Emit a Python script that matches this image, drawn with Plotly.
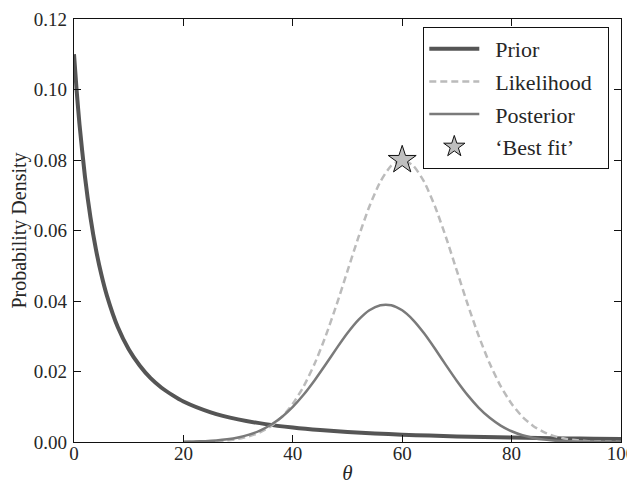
import plotly.graph_objects as go

# ---- data ----
prior_x = [0, 0.5, 1, 2, 3, 4, 5, 6, 8, 10, 12, 14, 16, 18, 20, 25, 30, 35, 40, 45,
           50, 55, 60, 65, 70, 75, 80, 85, 90, 95, 100]
prior_y = [0.1100, 0.0993, 0.0902, 0.0753, 0.0638, 0.0547, 0.0475, 0.0416, 0.0326,
           0.0263, 0.0217, 0.0181, 0.0154, 0.0133, 0.0115, 0.00843, 0.00643, 0.00507,
           0.00410, 0.00338, 0.00284, 0.00242, 0.00208, 0.00181, 0.00159, 0.00141,
           0.00126, 0.00113, 0.00102, 0.00092, 0.00084]

theta = [20, 22, 24, 26, 28, 30, 32, 34, 36, 38, 40, 42, 44, 46, 48, 50, 52, 54, 56, 58,
         60, 62, 64, 66, 68, 70, 72, 74, 76, 78, 80, 82, 84, 86, 88, 90, 92, 94, 96, 98, 100]
likelihood = [0.0000268, 0.0000584, 0.000123, 0.000247, 0.000478, 0.000889, 0.00159,
              0.00272, 0.00449, 0.00711, 0.01083, 0.01583, 0.02224, 0.03002, 0.03894,
              0.04852, 0.05809, 0.06682, 0.07385, 0.07842, 0.08000, 0.07842, 0.07385,
              0.06682, 0.05809, 0.04852, 0.03894, 0.03002, 0.02224, 0.01583, 0.01083,
              0.00711, 0.00449, 0.00272, 0.00159, 0.000889, 0.000478, 0.000247,
              0.000123, 0.0000584, 0.0000268]
posterior = [0.0000693, 0.000132, 0.000247, 0.000441, 0.000765, 0.001283, 0.002080,
             0.003238, 0.004887, 0.007101, 0.009961, 0.013452, 0.017515, 0.021970,
             0.026553, 0.030901, 0.034631, 0.037370, 0.038819, 0.038817, 0.037355,
             0.034600, 0.030836, 0.026444, 0.021818, 0.017319, 0.013227, 0.009714,
             0.006864, 0.004665, 0.003051, 0.001916, 0.001159, 0.000673, 0.000377,
             0.000203, 0.000105, 0.000052, 0.000025, 0.0000114, 0.000005]

best_fit_x = [60]
best_fit_y = [0.08]

x_ticks = [0, 20, 40, 60, 80, 100]
y_ticks = [0.00, 0.02, 0.04, 0.06, 0.08, 0.10, 0.12]

series_names = ["Prior", "Likelihood", "Posterior", "‘Best fit’"]

FONT = "Liberation Serif"
NB = "\u00a0"


def label(s):
    return NB * 2 + s + NB * 2


fig = go.Figure()
fig.add_trace(go.Scatter(x=prior_x, y=prior_y, mode="lines", name=label(series_names[0]),
                         legendgroup="a",
                         line=dict(color="#555555", width=4, shape="spline", smoothing=0.6)))
fig.add_trace(go.Scatter(x=theta, y=likelihood, mode="lines", name=label(series_names[1]),
                         legendgroup="b",
                         line=dict(color="#bbbbbb", width=2.5, dash="7px,4px",
                                   shape="spline", smoothing=0.6)))
fig.add_trace(go.Scatter(x=theta, y=posterior, mode="lines", name=label(series_names[2]),
                         legendgroup="c",
                         line=dict(color="#7a7a7a", width=2.5, shape="spline", smoothing=0.6)))
fig.add_trace(go.Scatter(x=best_fit_x, y=best_fit_y, mode="markers", name=label(series_names[3]),
                         legendgroup="d",
                         marker=dict(symbol="star", size=21, color="#bfbfbf",
                                     line=dict(color="#111111", width=1))))

# the page body adds an 8px offset, so margins are shifted to compensate
fig.update_layout(
    width=635, height=484,
    margin=dict(l=66, r=22, t=11, b=50),
    paper_bgcolor="white", plot_bgcolor="white",
    font=dict(family=FONT, size=19, color="#262626"),
    showlegend=True,
    legend=dict(x=0.9786, y=0.981, xanchor="right", yanchor="top",
                bgcolor="white", bordercolor="#111111", borderwidth=1,
                font=dict(family=FONT, size=22, color="#262626"),
                traceorder="grouped", tracegroupgap=1, itemwidth=50),
)
fig.update_xaxes(range=[0, 100], tickvals=x_ticks, ticktext=[str(v) for v in x_ticks],
                 ticks="inside", ticklen=7, tickwidth=1, tickcolor="#111111",
                 showline=True, linecolor="#111111", linewidth=1.2, mirror="ticks",
                 showgrid=False, zeroline=False, automargin=False,
                 ticklabeloverflow="allow", ticklabelstandoff=-6,
                 title=dict(text="<i>θ</i>", font=dict(family=FONT, size=21), standoff=2))
fig.update_yaxes(range=[0, 0.12], tickvals=y_ticks, ticktext=[f"{v:.2f}" for v in y_ticks],
                 ticks="inside", ticklen=7, tickwidth=1, tickcolor="#111111",
                 showline=True, linecolor="#111111", linewidth=1.2, mirror="ticks",
                 showgrid=False, zeroline=False, automargin=False,
                 ticklabeloverflow="allow", ticklabelstandoff=2,
                 title=dict(text="Probability Density", font=dict(family=FONT, size=20),
                            standoff=6))

fig.write_html("out.html")
